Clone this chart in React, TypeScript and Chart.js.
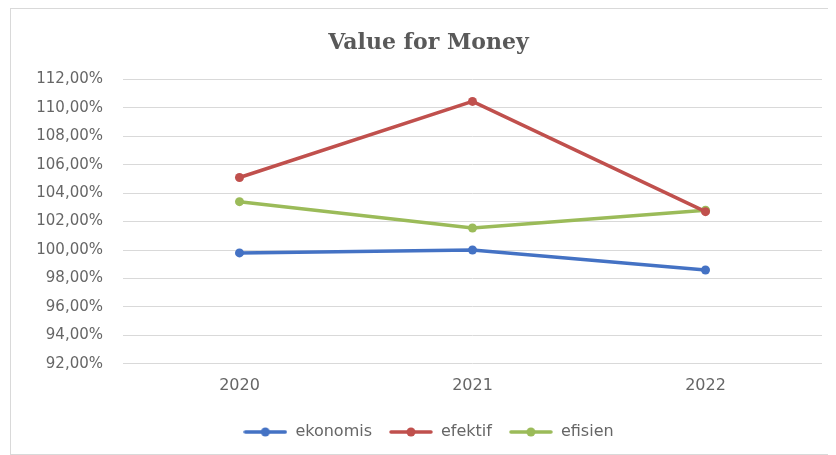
import React, { useEffect, useRef } from "react";
import { Chart, registerables } from "chart.js";

Chart.register(...registerables);

const categories = ["2020", "2021", "2022"];
const ekonomis = [99.8, 100.0, 98.6];
const efektif = [105.1, 110.45, 102.7];
const efisien = [103.4, 101.55, 102.8];
const seriesNames = ["ekonomis", "efektif", "efisien"];
const seriesColors = ["#4472C4", "#C0504D", "#9BBB59"];
const yMin = 92;
const yMax = 112;
const yStep = 2;

function makeLegendIcon(color: string): HTMLCanvasElement {
  const c = document.createElement("canvas");
  c.width = 44;
  c.height = 12;
  const ctx = c.getContext("2d")!;
  ctx.strokeStyle = color;
  ctx.lineWidth = 3.5;
  ctx.lineCap = "round";
  ctx.beginPath();
  ctx.moveTo(2, 6);
  ctx.lineTo(42, 6);
  ctx.stroke();
  ctx.fillStyle = color;
  ctx.beginPath();
  ctx.arc(22, 6, 4.5, 0, Math.PI * 2);
  ctx.fill();
  return c;
}

export default function App() {
  const ref = useRef<HTMLCanvasElement | null>(null);
  useEffect(() => {
    if (!ref.current) return;
    const values = [ekonomis, efektif, efisien];
    const icons = seriesColors.map((c) => makeLegendIcon(c));
    const chart = new Chart(ref.current, {
      type: "line",
      data: {
        labels: categories,
        datasets: values.map((v, i) => ({
          label: seriesNames[i],
          data: v,
          borderColor: seriesColors[i],
          backgroundColor: seriesColors[i],
          borderWidth: 3.5,
          pointRadius: 4.5,
          pointHoverRadius: 4.5,
          pointBackgroundColor: seriesColors[i],
          pointBorderColor: seriesColors[i],
          pointBorderWidth: 0,
          tension: 0,
          pointStyle: "circle",
        })),
      },
      options: {
        animation: false,
        responsive: false,
        maintainAspectRatio: false,
        layout: { padding: { left: 24, right: 15, top: 10, bottom: 4 } },
        plugins: {
          tooltip: { enabled: false },
          title: {
            display: true,
            text: "Value for Money",
            color: "#595959",
            font: { family: "'DejaVu Serif', serif", size: 22, weight: "bold" },
            padding: { top: 11, bottom: 23 },
          },
          legend: {
            position: "bottom",
            labels: {
              usePointStyle: true,
              pointStyleWidth: 44,
              boxHeight: 12,
              padding: 17,
              color: "#666666",
              font: { family: "'DejaVu Sans', sans-serif", size: 16 },
              generateLabels: (ch: any) =>
                ch.data.datasets.map((ds: any, i: number) => ({
                  text: ds.label,
                  fillStyle: seriesColors[i],
                  strokeStyle: seriesColors[i],
                  lineWidth: 0,
                  pointStyle: icons[i],
                  hidden: false,
                  datasetIndex: i,
                  fontColor: "#666666",
                })),
            },
          },
        },
        scales: {
          x: {
            offset: true,
            grid: { display: false, drawTicks: false },
            border: { display: false },
            ticks: {
              color: "#666666",
              font: { family: "'DejaVu Sans', sans-serif", size: 16 },
              padding: 12,
            },
          },
          y: {
            min: yMin,
            max: yMax,
            grid: { color: "#d9d9d9", lineWidth: 1, drawTicks: false },
            border: { display: false },
            afterFit: (axis: any) => {
              axis.width = 88;
            },
            ticks: {
              stepSize: yStep,
              color: "#666666",
              font: { family: "'DejaVu Sans', sans-serif", size: 15 },
              padding: 20,
              callback: (v: any) => Number(v).toFixed(2).replace(".", ",") + "%",
            },
          },
        },
      },
    });
    return () => chart.destroy();
  }, []);
  return (
    <div
      style={{
        width: 828,
        height: 447,
        border: "1px solid #d9d9d9",
        boxSizing: "border-box",
        marginLeft: 2,
        background: "#fff",
      }}
    >
      <canvas ref={ref} width={826} height={445} style={{ display: "block" }} />
    </div>
  );
}
